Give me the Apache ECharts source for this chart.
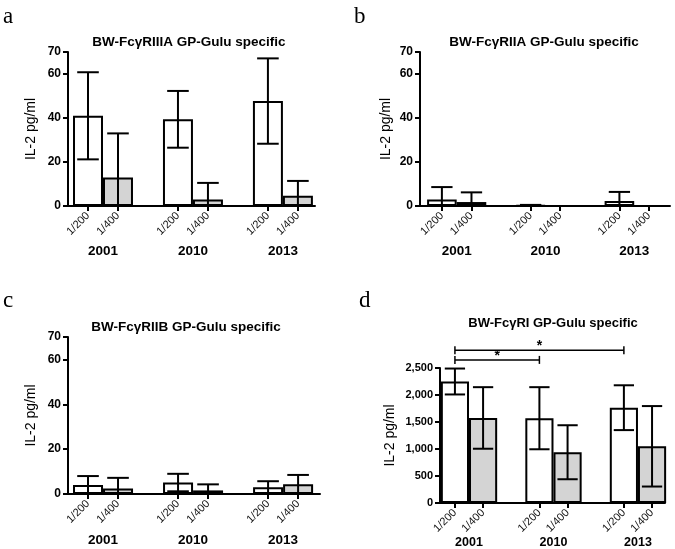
<!DOCTYPE html>
<html>
<head>
<meta charset="utf-8">
<script src="https://cdn.jsdelivr.net/npm/echarts@6/dist/echarts.min.js"></script>
<style>
html, body { margin: 0; padding: 0; background: #fff; }
#chart { width: 675px; height: 549px; }
</style>
</head>
<body>
<div id="chart"></div>
<script>
'use strict';
// data, bar order: 2001 1/200, 2001 1/400, 2010 1/200, 2010 1/400, 2013 1/200, 2013 1/400
const years = ['2001', '2010', '2013'];
const dilutions = ['1/200', '1/400'];
const meanA = [41, 13, 39.4, 3.0, 47.7, 4.7];
const sdA = [19.8, 20, 12.9, 7.5, 19.4, 6.7];
const meanB = [2.9, 1.8, 0.3, 0, 2.3, 0];
const sdB = [5.7, 4.4, 0.2, 0, 4.1, 0];
const meanC = [4.0, 2.5, 5.1, 1.6, 3.0, 4.3];
const sdC = [4.0, 4.7, 3.9, 2.7, 2.7, 4.2];
const meanD = [2250, 1575, 1570, 940, 1765, 1050];
const sdD = [240, 570, 575, 500, 415, 745];
const sigPairs = [[0, 2], [0, 4]]; // 2001 1/200 vs 2010 1/200, vs 2013 1/200
const sigLevels = [2650, 2830];
const sigLabels = ['*', '*'];
const titles = ['BW-FcγRIIIA GP-Gulu specific', 'BW-FcγRIIA GP-Gulu specific',
  'BW-FcγRIIB GP-Gulu specific', 'BW-FcγRI GP-Gulu specific'];
const letters = ['a', 'b', 'c', 'd'];
const yTitle = 'IL-2 pg/ml';

const FONT = 'Liberation Sans, Arial, sans-serif';

// bar i -> position on the x axis (two bars per year, one empty slot between years)
function xPos(i) {
  return Math.floor(i / 2) * (dilutions.length + 1) + i % dilutions.length;
}
const tickPos = meanA.map(function (v, i) { return xPos(i); });
const yearPos = years.map(function (y, g) { return g * (dilutions.length + 1) + (dilutions.length - 1) / 2; });

// layout of the four panels
const panels = [
  { mean: meanA, sd: sdA, grid: { left: 68, top: 52, width: 247, height: 154 }, xr: [-0.667, 7.57],
    yMax: 70, step: 20, nameGap: 30, tickFont: 12, yearMargin: 38, yearFont: 13.5,
    titleX: 189, titleY: 35, titleFont: 13.5, letterX: 3, letterY: 5 },
  { mean: meanB, sd: sdB, grid: { left: 420, top: 52, width: 250, height: 154 }, xr: [-0.74, 7.71],
    yMax: 70, step: 20, nameGap: 27, tickFont: 12, yearMargin: 38, yearFont: 13.5,
    titleX: 544, titleY: 35, titleFont: 13.5, letterX: 354, letterY: 5 },
  { mean: meanC, sd: sdC, grid: { left: 68, top: 337, width: 252, height: 157 }, xr: [-0.667, 7.73],
    yMax: 70, step: 20, nameGap: 30, tickFont: 12, yearMargin: 39, yearFont: 13.5,
    titleX: 186, titleY: 320, titleFont: 13.5, letterX: 3, letterY: 289 },
  { mean: meanD, sd: sdD, grid: { left: 440, top: 368, width: 225, height: 135 }, xr: [-0.53, 7.46],
    yMax: 2500, step: 500, nameGap: 43, tickFont: 11, yearMargin: 33, yearFont: 12.5,
    titleX: 553, titleY: 317, titleFont: 13, letterX: 359, letterY: 289 }
];

function errorBarItem(params, api) {
  const x = api.value(0), m = api.value(1), s = api.value(2);
  const hi = api.coord([x, m + s]);
  const lo = api.coord([x, Math.max(0, m - s)]);
  const half = api.size([1, 0])[0] * 0.36;
  const children = [
    { type: 'line', shape: { x1: hi[0], y1: hi[1], x2: lo[0], y2: lo[1] }, style: { stroke: '#000', lineWidth: 2 } },
    { type: 'line', shape: { x1: hi[0] - half, y1: hi[1], x2: hi[0] + half, y2: hi[1] }, style: { stroke: '#000', lineWidth: 2 } }
  ];
  if (m - s > 0) {
    children.push({ type: 'line', shape: { x1: lo[0] - half, y1: lo[1], x2: lo[0] + half, y2: lo[1] }, style: { stroke: '#000', lineWidth: 2 } });
  }
  return { type: 'group', children: children };
}

function bracketItem(params, api) {
  const a = api.coord([api.value(0), api.value(2)]);
  const b = api.coord([api.value(1), api.value(2)]);
  const st = function () { return { stroke: '#000', lineWidth: 1.5 }; };
  return {
    type: 'group',
    children: [
      { type: 'line', shape: { x1: a[0], y1: a[1], x2: b[0], y2: b[1] }, style: st() },
      { type: 'line', shape: { x1: a[0], y1: a[1] - 4, x2: a[0], y2: a[1] + 4 }, style: st() },
      { type: 'line', shape: { x1: b[0], y1: b[1] - 4, x2: b[0], y2: b[1] + 4 }, style: st() },
      { type: 'text', style: { text: sigLabels[params.dataIndex], x: (a[0] + b[0]) / 2, y: a[1] + 3,
        align: 'center', verticalAlign: 'bottom', font: 'bold 14px ' + FONT, fill: '#000' } }
    ]
  };
}

const option = {
  animation: false,
  backgroundColor: '#fff',
  title: [],
  grid: [],
  xAxis: [],
  yAxis: [],
  series: []
};

panels.forEach(function (p, k) {
  option.grid.push(p.grid);
  option.title.push({
    text: titles[k], left: p.titleX, top: p.titleY, textAlign: 'center', padding: 0,
    textStyle: { fontFamily: FONT, fontSize: p.titleFont, fontWeight: 'bold', color: '#000' }
  });
  option.title.push({
    text: letters[k], left: p.letterX, top: p.letterY, padding: 0,
    textStyle: { fontFamily: 'Liberation Serif, Times New Roman, serif', fontSize: 23, fontWeight: 'normal', color: '#000' }
  });
  // dilution axis
  option.xAxis.push({
    type: 'value', gridIndex: k, min: p.xr[0], max: p.xr[1], position: 'bottom',
    splitLine: { show: false },
    axisLine: { show: true, onZero: false, lineStyle: { color: '#000', width: 2 } },
    axisTick: { show: true, length: 5, customValues: tickPos, lineStyle: { color: '#000', width: 2 } },
    axisLabel: {
      customValues: tickPos, rotate: 45, margin: 8, fontFamily: FONT, fontSize: 11, color: '#111',
      formatter: function (v) { return dilutions[Math.round(v) % (dilutions.length + 1)] || ''; }
    }
  });
  // year axis
  option.xAxis.push({
    type: 'value', gridIndex: k, min: p.xr[0], max: p.xr[1], position: 'bottom',
    splitLine: { show: false }, axisLine: { show: false }, axisTick: { show: false },
    axisLabel: {
      customValues: yearPos, margin: p.yearMargin, fontFamily: FONT, fontSize: p.yearFont,
      fontWeight: 'bold', color: '#000',
      formatter: function (v) { return years[Math.round((v - 0.5) / (dilutions.length + 1))]; }
    }
  });
  option.yAxis.push({
    type: 'value', gridIndex: k, min: 0, max: p.yMax, interval: p.step,
    name: yTitle, nameLocation: 'middle', nameRotate: 90, nameGap: p.nameGap,
    nameTextStyle: { fontFamily: FONT, fontSize: 14, color: '#000' },
    splitLine: { show: false },
    axisLine: { show: true, onZero: false, lineStyle: { color: '#000', width: 2 } },
    axisTick: { show: true, length: 5, lineStyle: { color: '#000', width: 2 } },
    axisLabel: {
      margin: 7, fontFamily: FONT, fontSize: p.tickFont, fontWeight: 'bold', color: '#000',
      formatter: function (v) { return v.toLocaleString('en-US'); }
    }
  });
  option.series.push({
    type: 'bar', xAxisIndex: k * 2, yAxisIndex: k, barWidth: '100%', z: 2,
    itemStyle: { borderColor: '#000', borderWidth: 2 },
    data: p.mean.map(function (v, i) {
      return { value: [xPos(i), v], itemStyle: { color: i % 2 ? '#d4d4d4' : '#fff' } };
    })
  });
  option.series.push({
    type: 'custom', xAxisIndex: k * 2, yAxisIndex: k, z: 3, clip: false,
    renderItem: errorBarItem, encode: { x: 0, y: 1 },
    data: p.mean.map(function (v, i) { return [xPos(i), v, p.sd[i]]; })
  });
});

// significance brackets on panel d
option.series.push({
  type: 'custom', xAxisIndex: 6, yAxisIndex: 3, z: 4, clip: false,
  renderItem: bracketItem, encode: { x: [0, 1], y: 2 },
  data: sigPairs.map(function (pr, i) { return [xPos(pr[0]), xPos(pr[1]), sigLevels[i]]; })
});

const chart = echarts.init(document.getElementById('chart'));
chart.setOption(option);
window.addEventListener('resize', function () { chart.resize(); });
</script>
</body>
</html>
